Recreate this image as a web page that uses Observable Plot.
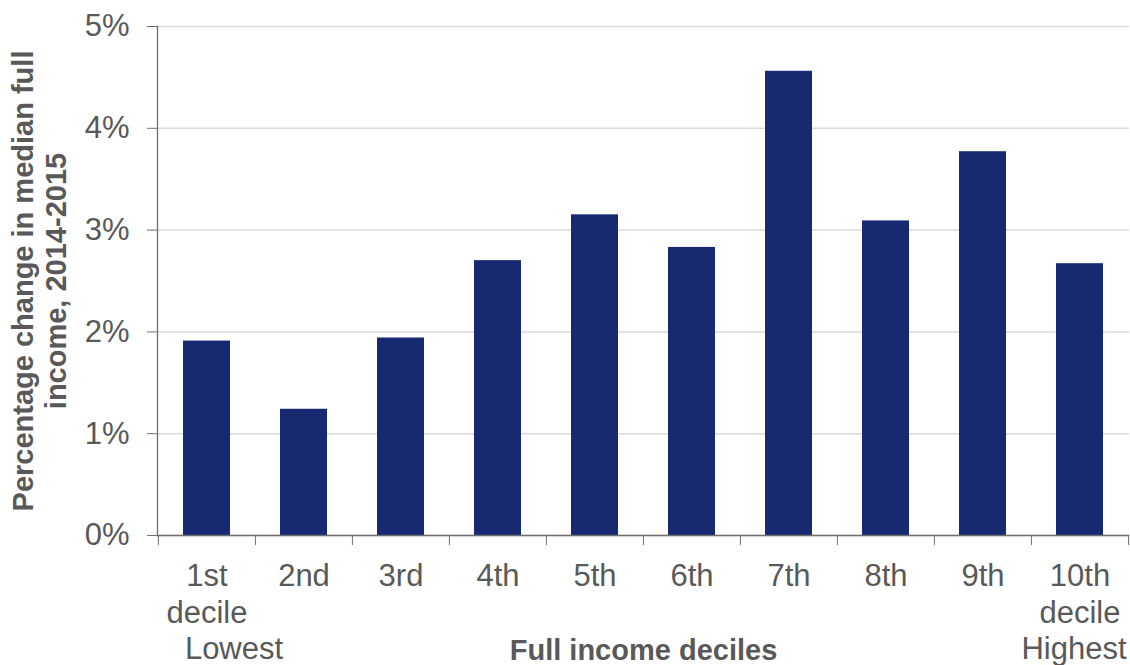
<!DOCTYPE html>
<html>
<head>
<meta charset="utf-8">
<script src="https://cdn.jsdelivr.net/npm/d3@7"></script>
<script src="https://cdn.jsdelivr.net/npm/@observablehq/plot@0.6"></script>
<style>
  html, body { margin: 0; padding: 0; background: #ffffff; }
  #chart { width: 1130px; height: 665px; }
</style>
</head>
<body>
<div id="chart"></div>
<script>
// ---- data ----
const deciles = ["1st", "2nd", "3rd", "4th", "5th", "6th", "7th", "8th", "9th", "10th"];
const tickLabels = ["1st\ndecile", "2nd", "3rd", "4th", "5th", "6th", "7th", "8th", "9th", "10th\ndecile"];
const change = [1.91, 1.24, 1.94, 2.70, 3.15, 2.83, 4.56, 3.09, 3.77, 2.67];
const yTicks = [0, 1, 2, 3, 4, 5];
const endLabels = ["Lowest", "Highest"];
const xTitle = "Full income deciles";
const yTitle = "Percentage change in median full\nincome, 2014-2015";

const data = deciles.map((d, i) => ({decile: d, change: change[i]}));

const W = 1130, H = 665;
const mL = 157, mR = 1, mT = 26, mB = 130;
const step = (W - mL - mR) / deciles.length;
const axisColor = "#6e6e6e";
const textColor = "#595959";

const chart = Plot.plot({
  width: W,
  height: H,
  marginLeft: mL,
  marginRight: mR,
  marginTop: mT,
  marginBottom: mB,
  style: {fontFamily: "'Liberation Sans', Arial, sans-serif", color: textColor, background: "#ffffff", overflow: "visible"},
  x: {domain: deciles, paddingInner: 0.515, paddingOuter: 0.2575, align: 0.5},
  y: {domain: [0, 5]},
  marks: [
    Plot.gridY(yTicks, {stroke: "#d9d9d9", strokeOpacity: 1, strokeWidth: 1.5}),
    Plot.barY(data, {x: "decile", y: "change", fill: "#162971"}),
    Plot.axisY(yTicks, {tickSize: 10, tickPadding: 18, fontSize: 31, tickFormat: d => d + "%", stroke: axisColor, fill: textColor, label: null}),
    Plot.axisX(deciles, {tickSize: 10, dx: -step / 2, text: null, label: null, stroke: axisColor}),
    Plot.axisX([deciles[deciles.length - 1]], {tickSize: 10, dx: step / 2, text: null, label: null, stroke: axisColor}),
    Plot.axisX(deciles, {tickSize: 0, tickPadding: 24, fontSize: 31, lineHeight: 1.2, fill: textColor, tickFormat: d => tickLabels[deciles.indexOf(d)], label: null}),
    Plot.ruleY([0], {stroke: axisColor, strokeWidth: 1.3}),
    Plot.frame({anchor: "left", stroke: axisColor, strokeWidth: 1.3}),
    Plot.text([endLabels[0]], {x: () => deciles[0], frameAnchor: "bottom", lineAnchor: "top", dy: 101, dx: 27, fontSize: 31, fill: textColor}),
    Plot.text([endLabels[1]], {x: () => deciles[deciles.length - 1], frameAnchor: "bottom", lineAnchor: "top", dy: 101, dx: -6, fontSize: 31, fill: textColor}),
    Plot.text([xTitle], {frameAnchor: "bottom", lineAnchor: "top", dy: 104, fontSize: 29, fontWeight: "bold", fill: textColor}),
    Plot.text([yTitle], {frameAnchor: "left", rotate: -90, dx: -119, lineAnchor: "middle", textAnchor: "middle", lineHeight: 1.14, fontSize: 29, fontWeight: "bold", fill: textColor})
  ]
});

document.getElementById("chart").appendChild(chart);
</script>
</body>
</html>
